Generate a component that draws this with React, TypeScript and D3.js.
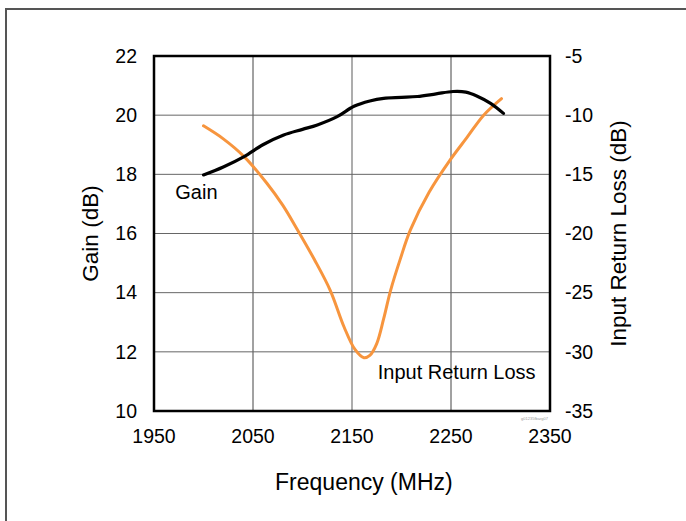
import React, { useRef, useEffect } from "react";
import * as d3 from "d3";

// Gain (dB) vs frequency (MHz)
const gainFreq = [2000, 2020, 2041, 2060, 2081, 2100, 2115, 2135, 2152, 2168, 2182, 2200, 2216, 2235, 2252, 2265, 2276, 2290, 2303];
const gainDb = [17.98, 18.25, 18.6, 19.0, 19.33, 19.52, 19.67, 19.95, 20.3, 20.48, 20.57, 20.6, 20.63, 20.72, 20.8, 20.78, 20.65, 20.4, 20.06];

// Input return loss (dB) vs frequency (MHz)
const rlFreq = [2000, 2020, 2041, 2064, 2080, 2095, 2112, 2128, 2142, 2153, 2162, 2168, 2175, 2182, 2189, 2199, 2209, 2228, 2249, 2266, 2283, 2301];
const rlDb = [-10.9, -12.0, -13.5, -15.75, -17.6, -19.7, -22.2, -24.8, -27.9, -29.8, -30.5, -30.3, -29.3, -27.2, -24.8, -22.1, -19.7, -16.5, -13.8, -11.9, -10.0, -8.6];

const xTicks = [1950, 2050, 2150, 2250, 2350];
const gainTicks = [10, 12, 14, 16, 18, 20, 22];
const rlTicks = [-35, -30, -25, -20, -15, -10, -5];

const App = () => {
  const svgRef = useRef<SVGSVGElement>(null);

  useEffect(() => {
    const width = 686;
    const height = 521;
    const margin = { top: 56, right: 136, bottom: 110, left: 154 };
    const w = 550 - margin.left;
    const h = 411 - margin.top;

    const root = d3.select(svgRef.current);
    root.selectAll("*").remove();
    root.attr("width", width).attr("height", height);

    const font = "'Liberation Sans', Arial, Helvetica, sans-serif";

    // outer frame (clipped at the page edges)
    root.append("path")
      .attr("d", `M6,${height} L6,9 L${width},9`)
      .attr("fill", "none")
      .attr("stroke", "#555")
      .attr("stroke-width", 2);

    const svg = root.append("g").attr("transform", `translate(${margin.left},${margin.top})`);

    const x = d3.scaleLinear().domain([1950, 2350]).range([0, w]);
    const yL = d3.scaleLinear().domain([10, 22]).range([h, 0]);
    const yR = d3.scaleLinear().domain([-35, -5]).range([h, 0]);

    // grid
    svg.selectAll(".vgrid")
      .data(xTicks.slice(1, -1))
      .enter()
      .append("line")
      .attr("x1", (d) => x(d))
      .attr("x2", (d) => x(d))
      .attr("y1", 0)
      .attr("y2", h)
      .attr("stroke", (d) => (d === 2150 ? "#999" : "#444"))
      .attr("stroke-width", (d) => (d === 2150 ? 1.6 : 1));

    svg.selectAll(".hgrid")
      .data(gainTicks.slice(1, -1))
      .enter()
      .append("line")
      .attr("x1", 0)
      .attr("x2", w)
      .attr("y1", (d) => yL(d))
      .attr("y2", (d) => yL(d))
      .attr("stroke", "#666")
      .attr("stroke-width", 1);

    // curves
    const gainLine = d3.line<number>()
      .x((d, i) => x(gainFreq[i]))
      .y((d) => yL(d))
      .curve(d3.curveCatmullRom);

    const rlLine = d3.line<number>()
      .x((d, i) => x(rlFreq[i]))
      .y((d) => yR(d))
      .curve(d3.curveCatmullRom);

    svg.append("path")
      .attr("d", rlLine(rlDb))
      .attr("fill", "none")
      .attr("stroke", "#F7953E")
      .attr("stroke-width", 3)
      .attr("stroke-linecap", "round");

    svg.append("path")
      .attr("d", gainLine(gainDb))
      .attr("fill", "none")
      .attr("stroke", "#000")
      .attr("stroke-width", 3.2)
      .attr("stroke-linecap", "round");

    // plot frame
    svg.append("rect")
      .attr("x", 0)
      .attr("y", 0)
      .attr("width", w)
      .attr("height", h)
      .attr("fill", "none")
      .attr("stroke", "#000")
      .attr("stroke-width", 2.5);

    // tick labels
    svg.selectAll(".lt")
      .data(gainTicks)
      .enter()
      .append("text")
      .attr("x", -17)
      .attr("y", (d) => yL(d))
      .attr("dy", "0.35em")
      .attr("text-anchor", "end")
      .style("font-family", font)
      .style("font-size", "19.5px")
      .text((d) => d);

    svg.selectAll(".rt")
      .data(rlTicks)
      .enter()
      .append("text")
      .attr("x", w + 15)
      .attr("y", (d) => yR(d))
      .attr("dy", "0.35em")
      .attr("text-anchor", "start")
      .style("font-family", font)
      .style("font-size", "19.5px")
      .text((d) => d);

    svg.selectAll(".bt")
      .data(xTicks)
      .enter()
      .append("text")
      .attr("x", (d) => x(d))
      .attr("y", h + 32)
      .attr("text-anchor", "middle")
      .style("font-family", font)
      .style("font-size", "19.5px")
      .text((d) => d);

    // axis titles
    svg.append("text")
      .attr("transform", `translate(-56,${h / 2}) rotate(-90)`)
      .attr("text-anchor", "middle")
      .style("font-family", font)
      .style("font-size", "22.5px")
      .text("Gain (dB)");

    svg.append("text")
      .attr("transform", `translate(${w + 76},${h / 2}) rotate(-90)`)
      .attr("text-anchor", "middle")
      .style("font-family", font)
      .style("font-size", "22.5px")
      .text("Input Return Loss (dB)");

    svg.append("text")
      .attr("x", x(2162))
      .attr("y", h + 79)
      .attr("text-anchor", "middle")
      .style("font-family", font)
      .style("font-size", "23px")
      .text("Frequency (MHz)");

    // curve labels
    svg.append("text")
      .attr("x", x(1971.5))
      .attr("y", yL(17.15))
      .style("font-family", font)
      .style("font-size", "20px")
      .text("Gain");

    svg.append("text")
      .attr("x", x(2176))
      .attr("y", yR(-32.3))
      .style("font-family", font)
      .style("font-size", "20px")
      .text("Input Return Loss");

    svg.append("text")
      .attr("x", w - 2)
      .attr("y", h + 9)
      .attr("text-anchor", "end")
      .attr("fill", "#999")
      .style("font-family", font)
      .style("font-size", "4px")
      .text("g01235fbarg07");
  }, []);

  return <svg ref={svgRef} style={{ position: "absolute", left: 0, top: 0 }} />;
};

export default App;
